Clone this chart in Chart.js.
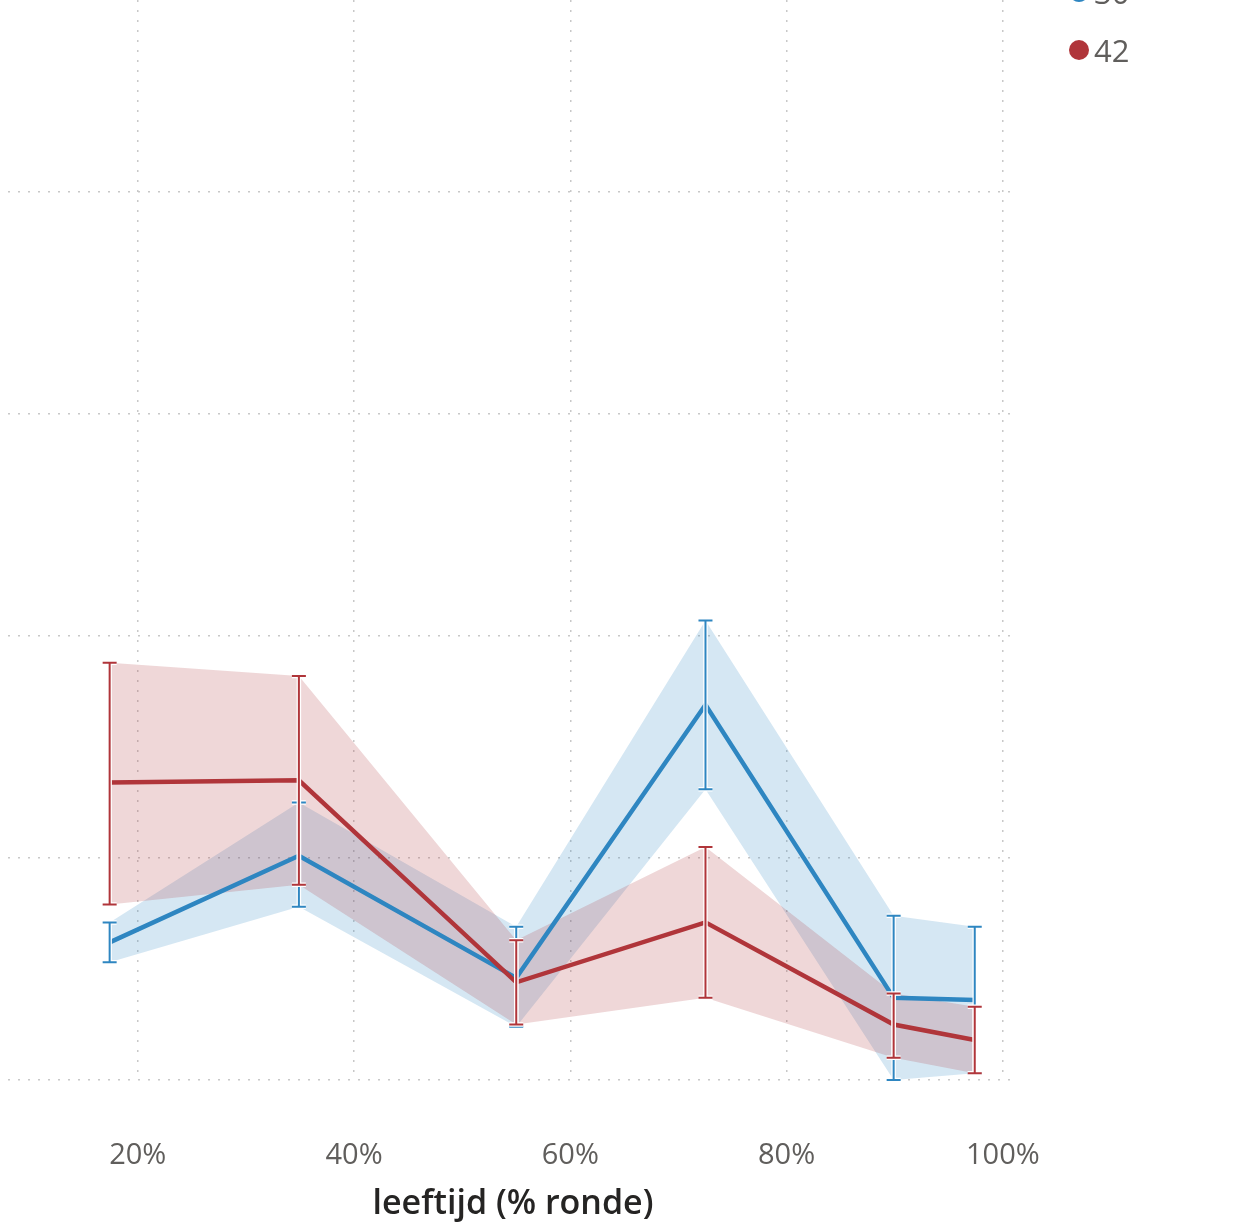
<!DOCTYPE html>
<html>
<head>
<meta charset="utf-8">
<script src="https://cdn.jsdelivr.net/npm/chart.js@4/dist/chart.umd.min.js"></script>
<style>
  body { margin: 0; background: #fff; overflow: hidden; width: 1241px; height: 1225px; position: relative; }
  #wrap { position: absolute; left: 0; top: -80px; width: 1241px; height: 1305px; }
  #legend { position: absolute; left: 1069px; top: 0; font-family: "Open Sans", sans-serif; font-size: 31px; color: #605e5c; }
  .item { position: absolute; left: 0; height: 40px; line-height: 40px; display: flex; align-items: center; white-space: nowrap; }
  .dot { width: 20px; height: 20px; border-radius: 50%; margin-right: 5px; flex: none; }
</style>
</head>
<body>
<div id="wrap"><canvas id="chart"></canvas></div>
<div id="legend"></div>
<script>
// leeftijd (% ronde), one value per bin
const ages = [17.4, 34.9, 55.0, 72.5, 89.9, 97.4];

const seriesNames = ["30", "42"];
const seriesColors = ["#2e86c1", "#b0353a"];
const bandColors = ["rgba(46,134,193,0.2)", "rgba(176,53,58,0.2)"];

const mean30 = [0.62, 1.01, 0.46, 1.69, 0.37, 0.36];
const upper30 = [0.71, 1.25, 0.69, 2.07, 0.74, 0.69];
const lower30 = [0.53, 0.78, 0.24, 1.31, 0.00, 0.03];

const mean42 = [1.34, 1.35, 0.44, 0.71, 0.25, 0.18];
const upper42 = [1.88, 1.82, 0.63, 1.05, 0.39, 0.33];
const lower42 = [0.79, 0.88, 0.25, 0.37, 0.10, 0.03];

const xTicks = [20, 40, 60, 80, 100];

const pts = arr => arr.map((v, i) => ({ x: ages[i], y: v }));

const series = [
  { mean: mean30, upper: upper30, lower: lower30 },
  { mean: mean42, upper: upper42, lower: lower42 },
];

// error bars (whiskers with caps), positions come from the chart scales
const errorBars = {
  id: "errorBars",
  afterDatasetsDraw(chart) {
    const { ctx, scales: { x, y } } = chart;
    ctx.save();
    series.forEach((s, k) => {
      ages.forEach((a, i) => {
        const px = x.getPixelForValue(a);
        const top = y.getPixelForValue(s.upper[i]);
        const bot = y.getPixelForValue(s.lower[i]);
        [["#ffffff", 4.5], [seriesColors[k], 2]].forEach(([col, w]) => {
          ctx.strokeStyle = col;
          ctx.lineWidth = w;
          ctx.beginPath();
          ctx.moveTo(px, top); ctx.lineTo(px, bot);
          ctx.moveTo(px - 7, top); ctx.lineTo(px + 7, top);
          ctx.moveTo(px - 7, bot); ctx.lineTo(px + 7, bot);
          ctx.stroke();
        });
      });
    });
    ctx.restore();
  }
};

const bandSet = (data, k, fill, order) => ({
  data: pts(data),
  borderWidth: 0,
  pointRadius: 0,
  backgroundColor: bandColors[k],
  fill: fill,
  order: order
});

new Chart(document.getElementById("chart"), {
  type: "line",
  data: {
    datasets: [
      bandSet(upper30, 0, "+1", 3),
      bandSet(lower30, 0, false, 3),
      bandSet(upper42, 1, "+1", 2),
      bandSet(lower42, 1, false, 2),
      { label: seriesNames[0], data: pts(mean30), borderColor: seriesColors[0], borderWidth: 4.5, pointRadius: 0, fill: false, order: 1 },
      { label: seriesNames[1], data: pts(mean42), borderColor: seriesColors[1], borderWidth: 4.5, pointRadius: 0, fill: false, order: 0 },
    ]
  },
  options: {
    responsive: true,
    maintainAspectRatio: false,
    animation: false,
    layout: { padding: { top: 50, right: 223, left: 0, bottom: 0 } },
    plugins: { legend: { display: false }, tooltip: { enabled: false } },
    elements: { line: { tension: 0 } },
    scales: {
      x: {
        type: "linear",
        min: 8,
        max: 101.4,
        afterFit: s => { s.height = 145; },
        afterBuildTicks: s => { s.ticks = xTicks.map(v => ({ value: v })); },
        ticks: {
          includeBounds: false,
          padding: 58,
          color: "#605e5c",
          font: { family: "'Open Sans', sans-serif", size: 29 },
          callback: v => v + "%"
        },
        grid: { color: "#c8c8c8", lineWidth: 1.5, drawTicks: false },
        border: { display: false, dash: [2, 8] },
        title: {
          display: true,
          text: "leeftijd (% ronde)",
          color: "#252423",
          font: { family: "'Open Sans', sans-serif", size: 34, weight: "600" },
          padding: { top: 0, bottom: 0 }
        }
      },
      y: {
        min: 0,
        max: 5,
        afterFit: s => { s.width = 8; },
        ticks: { display: false, stepSize: 1 },
        grid: { color: "#c8c8c8", lineWidth: 1.5, drawTicks: false },
        border: { display: false, dash: [2, 8] }
      }
    }
  },
  plugins: [errorBars]
});

// legend, top right
const legend = document.getElementById("legend");
const legendTops = [-28, 30];
seriesNames.forEach((name, k) => {
  const item = document.createElement("div");
  item.className = "item";
  item.style.top = legendTops[k] + "px";
  const dot = document.createElement("span");
  dot.className = "dot";
  dot.style.background = seriesColors[k];
  item.appendChild(dot);
  item.appendChild(document.createTextNode(name));
  legend.appendChild(item);
});
</script>
</body>
</html>
